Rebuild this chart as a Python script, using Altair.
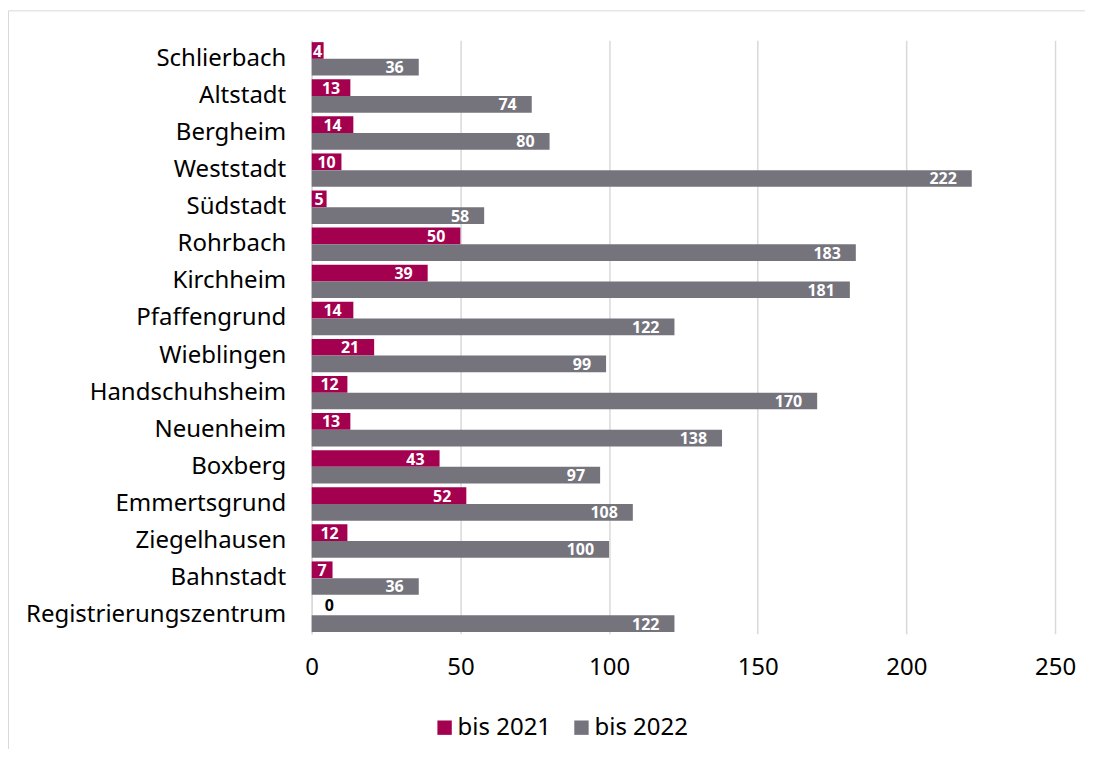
import altair as alt
import pandas as pd

stadtteile = ["Schlierbach", "Altstadt", "Bergheim", "Weststadt", "Südstadt", "Rohrbach",
              "Kirchheim", "Pfaffengrund", "Wieblingen", "Handschuhsheim", "Neuenheim",
              "Boxberg", "Emmertsgrund", "Ziegelhausen", "Bahnstadt", "Registrierungszentrum"]
bis_2021 = [4, 13, 14, 10, 5, 50, 39, 14, 21, 12, 13, 43, 52, 12, 7, 0]
bis_2022 = [36, 74, 80, 222, 58, 183, 181, 122, 99, 170, 138, 97, 108, 100, 36, 122]
serien = ["bis 2021", "bis 2022"]
farben = ["#a3004f", "#75747d"]
x_ticks = [0, 50, 100, 150, 200, 250]

rows = []
for i, s in enumerate(stadtteile):
    rows.append({"Stadtteil": s, "Serie": serien[0], "Wert": bis_2021[i]})
    rows.append({"Stadtteil": s, "Serie": serien[1], "Wert": bis_2022[i]})
df = pd.DataFrame(rows)

FONT = "Noto Sans"
FS = 24

y_enc = alt.Y("Stadtteil:N", sort=stadtteile, title=None,
              scale=alt.Scale(paddingInner=0.1, paddingOuter=0.05),
              axis=alt.Axis(labelFontSize=FS, labelFont=FONT, labelColor="#000000",
                            labelPadding=26, labelLimit=0, ticks=False, domain=True,
                            domainColor="#d9d9d9", domainWidth=1.5, grid=False))
x_enc = alt.X("Wert:Q", title=None,
              scale=alt.Scale(domain=[0, 250], nice=False),
              axis=alt.Axis(values=x_ticks, labelFontSize=FS, labelFont=FONT,
                            labelColor="#000000", labelPadding=22, labelFlush=False,
                            ticks=False, domain=False, grid=True,
                            gridColor="#d9d9d9", gridWidth=1.5))
yoff = alt.YOffset("Serie:N", sort=serien)
y_plain = alt.Y("Stadtteil:N", sort=stadtteile)

base = alt.Chart(df)

bars = base.mark_bar().encode(
    y=y_enc, x=x_enc, yOffset=yoff,
    color=alt.Color("Serie:N", sort=serien, title=None,
                    scale=alt.Scale(domain=serien, range=farben),
                    legend=alt.Legend(orient="none", legendX=121, legendY=676,
                                      direction="horizontal", symbolType="square",
                                      symbolSize=207, symbolStrokeWidth=0,
                                      labelFontSize=FS, labelFont=FONT,
                                      labelColor="#000000", columnPadding=18,
                                      labelOffset=1)),
)

labels_end = base.mark_text(align="right", baseline="middle", dx=-15, dy=1, fontSize=16,
                            fontWeight="bold", font=FONT, color="white").encode(
    y=y_plain, x="Wert:Q", yOffset=yoff, text=alt.Text("Wert:Q"),
).transform_filter("datum.Wert >= 20")

labels_small = base.mark_text(align="center", baseline="middle", dy=1, fontSize=16,
                              fontWeight="bold", font=FONT, color="white").encode(
    y=y_plain, x="Mitte:Q", yOffset=yoff, text=alt.Text("Wert:Q"),
).transform_filter("datum.Wert > 0 && datum.Wert < 20").transform_calculate(
    Mitte="datum.Wert / 2")

zero_labels = base.mark_text(align="left", baseline="middle", dx=13, dy=-1, fontSize=16,
                             fontWeight="bold", font=FONT, color="black").encode(
    y=y_plain, x="Wert:Q", yOffset=yoff, text=alt.Text("Wert:Q"),
).transform_filter("datum.Wert == 0")

frame = alt.Chart(alt.Data(values=[{}])).mark_rect(
    fill="transparent", stroke="#d9d9d9", strokeWidth=1).encode(
    x=alt.value(-303.5), x2=alt.value(900), y=alt.value(-29.5), y2=alt.value(900))

chart = alt.layer(frame, bars, labels_end, labels_small, zero_labels).properties(
    width=744, height=594,
    autosize=alt.AutoSizeParams(type="none"),
    padding={"left": 304, "top": 32, "right": 30, "bottom": 115},
).configure_view(strokeWidth=0)

chart.save("out.html", embed_options={"renderer": "svg", "actions": False})
